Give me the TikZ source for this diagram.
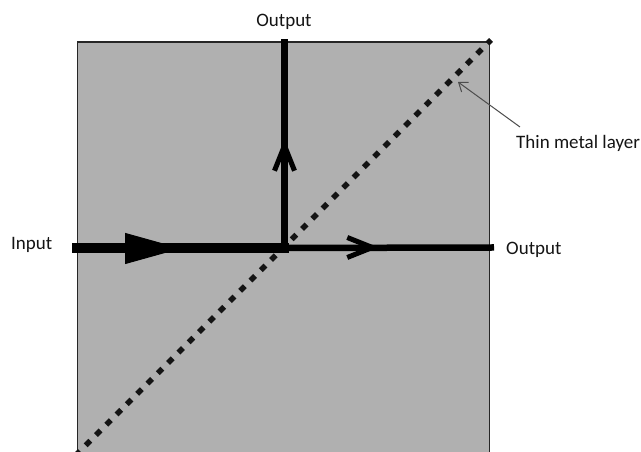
\documentclass[tikz,border=0pt]{standalone}
\usepackage{fontspec}
\usepackage{xcolor}
\setmainfont{Carlito}
\usetikzlibrary{arrows.meta}
\definecolor{cPlate}{HTML}{B0B0B0}
\definecolor{cInk}{HTML}{141414}
\tikzset{
  lbl/.style={font=\fontsize{19}{22}\selectfont,text=cInk,inner sep=0pt},
  inbeam/.style={line width=10pt,color=black},
  outbeam/.style={line width=6.5pt,color=black},
  layer/.style={line width=5.5pt,color=cInk,dash pattern=on 6.5pt off 8.07pt},
  edge/.style={line width=1.2pt,color=black!85},
  leader/.style={-{Straight Barb[length=8pt,width=12pt]},line width=1pt,color=black!70},
  headbarb/.style={line width=5pt,-{Straight Barb[length=25pt,width=20pt]}},
}
\begin{document}
\begin{tikzpicture}[x=1pt,y=1pt]
    \useasboundingbox (0,0) rectangle (641,452);
    % plate
    \fill[cPlate] (77.5,0) rectangle (489.5,410);
    \draw[edge] (77.5,0) -- (77.5,410) -- (489.5,410) -- (489.5,0);
    % corners and junction
    \coordinate (low) at (75.35,-3.65);
    \coordinate (high) at (491,412);
    \coordinate (join) at (284.5,204);
    \coordinate (west) at (72,203.5);
    \coordinate (east) at (494,204.5);
    \coordinate (north) at (284.5,413);
    \draw[layer] (low) -- (high);
    % labels
    \node[lbl,anchor=west] (in) at (11,207) {Input};
    \node[lbl,anchor=west] (outr) at (506,202) {Output};
    \node[lbl] (outt) at (284,430) {Output};
    \node[lbl,anchor=west] (thin) at (516,309) {Thin metal layer};
    % beams
    \coordinate (bigtip) at (181,203.5);
    \coordinate (eastip) at (379,204.5);
    \coordinate (nortip) at (284.5,313);
    \draw[outbeam] (join) -- (east);
    \draw[outbeam,line width=7pt] (284.5,200) -- (north);
    \draw[inbeam] (west) -- (289,203.5);
    \draw[inbeam,line width=1pt,-{Triangle[length=56pt,width=31pt]}] (124.5,203.5) -- (bigtip);
    \draw[outbeam,headbarb] (350,204.5) -- (eastip);
    \draw[outbeam,headbarb] (284.5,285) -- (nortip);
    % leader
    \coordinate (leadfoot) at (520,325);
    \coordinate (leadtip) at (458,370);
    \draw[leader] (leadfoot) -- (leadtip);
\end{tikzpicture}
\end{document}
